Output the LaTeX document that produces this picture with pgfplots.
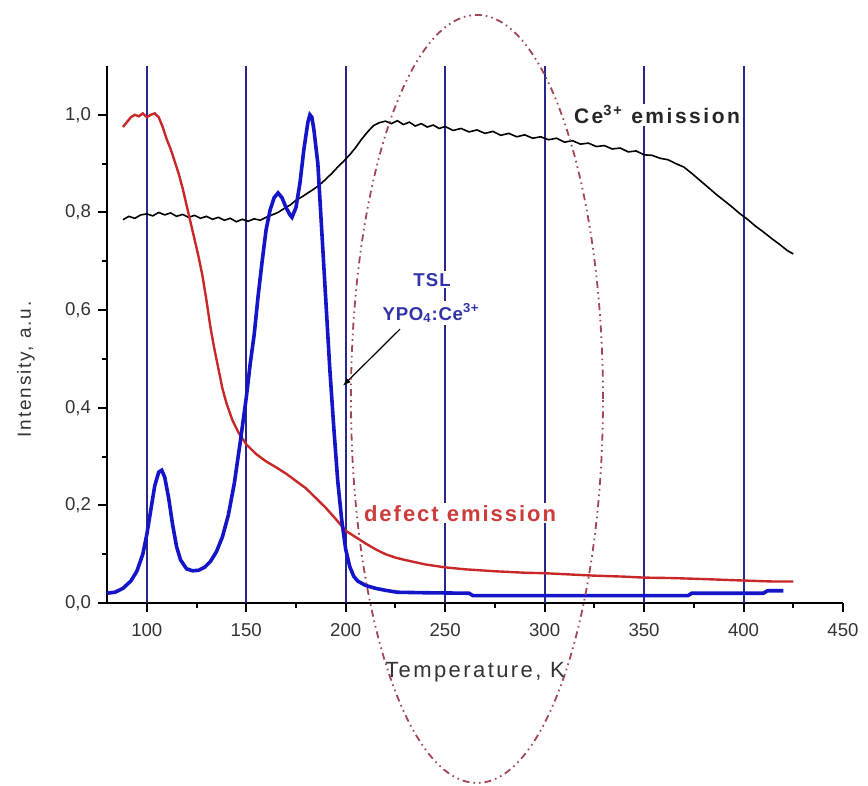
\documentclass[border=0pt]{standalone}
\usepackage{pgfplots}
\pgfplotsset{compat=1.18}
\usepackage{fontspec}
\setmainfont{Liberation Sans}
\usetikzlibrary{arrows.meta}
\definecolor{gridblue}{RGB}{40,40,140}
\definecolor{tslblue}{RGB}{20,20,200}
\definecolor{defred}{RGB}{200,40,40}
\definecolor{txtblue}{RGB}{50,50,170}
\definecolor{txtred}{RGB}{205,60,60}
\definecolor{ellred}{RGB}{160,70,85}

\pgfplotstableread{
x y
80 0.020
84 0.022
88 0.030
92 0.045
95 0.065
98 0.100
100 0.140
102 0.190
104 0.240
106 0.268
107.5 0.272
109 0.258
111 0.215
113 0.160
115 0.115
117 0.088
120 0.070
123 0.066
126 0.067
129 0.073
132 0.085
135 0.105
138 0.135
141 0.180
144 0.245
147 0.330
150 0.420
152 0.490
154 0.550
156 0.630
158 0.700
160 0.765
162 0.805
164 0.830
166 0.840
168 0.830
170 0.810
172 0.795
173 0.790
175 0.810
177 0.860
179 0.930
181 0.985
182 1.000
183 0.995
184 0.970
186 0.900
187 0.830
188 0.760
190 0.620
192 0.480
194 0.360
196 0.250
198 0.170
200 0.110
202 0.075
204 0.055
206 0.045
210 0.036
215 0.030
220 0.026
226 0.022
240 0.021
262 0.020
264 0.015
372 0.015
374 0.020
410 0.020
412 0.025
420 0.025
}\tsl

\pgfplotstableread{
x y
88 0.975
90 0.985
92 0.995
94 1.000
96 0.997
98 1.003
100 0.995
102 1.000
104 1.003
106 0.995
108 0.975
110 0.950
112 0.930
114 0.905
116 0.880
118 0.850
120 0.815
122 0.780
124 0.745
126 0.710
128 0.670
130 0.620
132 0.565
134 0.520
136 0.480
138 0.440
140 0.410
143 0.375
146 0.350
150 0.325
155 0.305
160 0.290
165 0.278
170 0.265
175 0.250
180 0.235
185 0.215
190 0.195
195 0.172
200 0.148
205 0.135
210 0.122
215 0.110
220 0.100
225 0.093
230 0.088
240 0.079
250 0.073
260 0.069
275 0.065
290 0.062
300 0.061
315 0.058
325 0.056
340 0.054
350 0.052
365 0.051
380 0.049
400 0.046
415 0.044
425 0.044
}\defect

\pgfplotstableread{
x y
88 0.785
91 0.792
94 0.788
97 0.795
100 0.797
103 0.793
106 0.800
109 0.795
112 0.799
115 0.792
118 0.796
121 0.790
124 0.794
127 0.788
130 0.792
133 0.786
136 0.790
139 0.784
142 0.788
145 0.781
148 0.786
151 0.782
154 0.787
157 0.784
160 0.790
163 0.795
166 0.800
169 0.808
172 0.815
175 0.825
178 0.832
181 0.840
184 0.848
187 0.857
190 0.868
193 0.880
196 0.893
199 0.905
202 0.918
205 0.933
208 0.950
211 0.965
214 0.978
217 0.984
220 0.987
223 0.982
226 0.988
229 0.980
232 0.985
235 0.977
238 0.982
241 0.975
244 0.979
247 0.972
250 0.976
254 0.968
258 0.972
262 0.965
266 0.969
270 0.962
274 0.966
278 0.958
282 0.962
286 0.955
290 0.959
294 0.952
298 0.955
302 0.949
306 0.952
310 0.944
314 0.947
318 0.940
322 0.942
326 0.935
330 0.937
334 0.930
338 0.932
342 0.924
346 0.926
350 0.918
354 0.917
358 0.911
362 0.908
366 0.900
370 0.893
374 0.880
378 0.866
382 0.852
386 0.838
390 0.825
394 0.812
398 0.798
402 0.786
406 0.772
410 0.760
414 0.747
418 0.735
422 0.722
425 0.715
}\cerium

\begin{document}
\begin{tikzpicture}
\path[use as bounding box] (-53.5pt,-91.5pt) rectangle (380.5pt,301.5pt);
\begin{axis}[
  scale only axis,
  width=368pt, height=268.5pt,
  xmin=80, xmax=450, ymin=0, ymax=1.1,
  axis x line*=bottom, axis y line*=left,
  axis line style={line width=1pt, black},
  xtick={100,150,...,450},
  ytick={0,0.2,0.4,0.6,0.8,1.0},
  minor x tick num=1, minor y tick num=1,
  tick align=outside,
  major tick length=4.5pt, minor tick length=2.5pt,
  tick style={line width=1pt, black},
  /pgf/number format/assume math mode=true,
  yticklabel style={/pgf/number format/.cd, use comma, fixed, fixed zerofill, precision=1},
  xticklabel style={yshift=-2pt},
  ticklabel style={font=\fontsize{9.3}{11}\selectfont, text=black!80},
  xlabel={Temperature, K},
  ylabel={Intensity, a.u.},
  xlabel style={at={(axis description cs:0.5,-0.1285)}, anchor=center, font=\fontsize{11}{13}\selectfont\addfontfeature{LetterSpace=11}, text=black!80},
  ylabel style={at={(axis description cs:-0.110,0.435)}, anchor=center, font=\fontsize{9.5}{11}\selectfont\addfontfeature{LetterSpace=10}, text=black!80},
  clip=false,
]
\pgfplotsinvokeforeach{100,150,200,250,300,350,400}{
  \addplot[gridblue, line width=1pt] coordinates {(#1,0) (#1,1.1)};
}
\addplot[black, line width=0.8pt] table[x=x,y=y] {\cerium};
\addplot[defred, line width=1.2pt] table[x=x,y=y] {\defect};
\addplot[tslblue, line width=1.8pt] table[x=x,y=y] {\tsl};

\node[fill=white, inner sep=1pt, font=\fontsize{10.5}{12}\selectfont\bfseries\addfontfeature{LetterSpace=12}, text=black!85] at (axis cs:356.5,1.0) {Ce\textsuperscript{3+} emission};
\node[fill=white, inner sep=1pt, font=\fontsize{11}{13}\selectfont\bfseries\addfontfeature{LetterSpace=9}, text=txtred] at (axis cs:257.5,0.184) {defect emission};
\node[fill=white, inner sep=1pt, font=\fontsize{9.3}{10}\selectfont\bfseries\addfontfeature{LetterSpace=6}, text=txtblue] at (axis cs:243.4,0.662) {TSL};
\node[fill=white, inner sep=1pt, font=\fontsize{9.3}{10}\selectfont\bfseries\addfontfeature{LetterSpace=4}, text=txtblue] at (axis cs:242.9,0.594) {YPO\textsubscript{4}:Ce\textsuperscript{3+}};
\draw[black, line width=0.6pt, -{Latex[length=4pt,width=3pt]}] (axis cs:227.3,0.561) -- (axis cs:198.6,0.445);
\draw[ellred, line width=0.9pt, dash pattern=on 3.5pt off 2pt on 0.8pt off 2pt on 0.8pt off 2pt] (axis cs:266,0.418) ellipse [x radius=63pt, y radius=192pt];
\end{axis}
\end{tikzpicture}
\end{document}
